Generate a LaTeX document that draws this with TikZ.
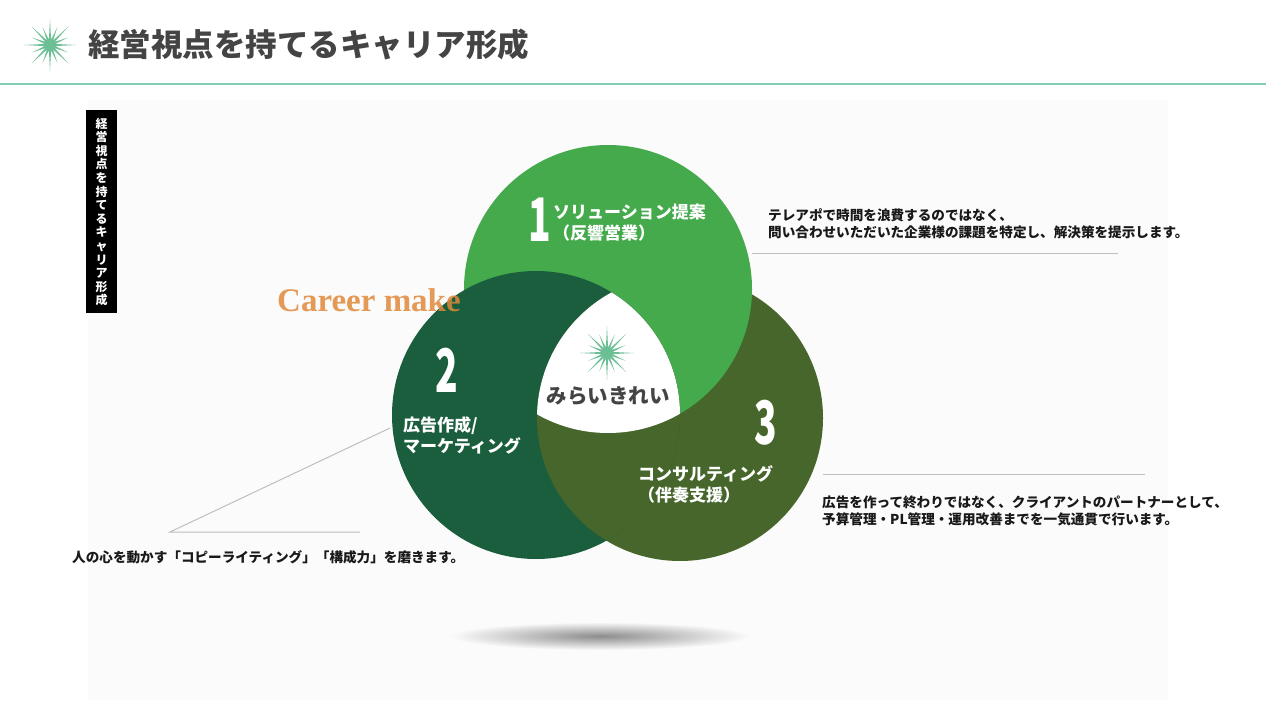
\documentclass[tikz,border=0pt]{standalone}
\usepackage{fontspec}
\setmainfont{Noto Sans CJK JP}
\newfontfamily\serifb{Liberation Serif}
\definecolor{gA}{HTML}{44AA4C}
\definecolor{gB}{HTML}{1B5E3D}
\definecolor{gC}{HTML}{46662B}
\definecolor{starc}{HTML}{6CBF95}
\definecolor{teal}{HTML}{7FD0B0}
\definecolor{tgray}{HTML}{444444}
\definecolor{orng}{HTML}{E0883A}
\tikzset{
  lead/.style={draw=black!25,line width=1pt},
  desc/.style={anchor=west,font=\bfseries\fontsize{13.6}{17}\selectfont,align=left,inner sep=0pt,text=black!90},
  inlab/.style={anchor=west,font=\bfseries\fontsize{17}{21}\selectfont,align=left,inner sep=0pt,text=white},
  bignum/.style={font=\bfseries\fontsize{60}{60}\selectfont,text=white,inner sep=0pt,xscale=0.62}
}
\begin{document}
\begin{tikzpicture}[x=1pt,y=-1pt]
\useasboundingbox (0,0) rectangle (1266,720);
\fill[white] (0,0) rectangle (1266,720);
\fill[black!1.5] (88,100) rectangle (1168,700);
% title star
\fill[starc] plot[samples at={0,...,31},variable=\i]
    ({50+ (mod(\i,2)==0 ? 26*(mod(\i,4)==0?1:0.75) : 5.5)*cos(\i*11.25)},
     {45+ (mod(\i,2)==0 ? 26*(mod(\i,4)==0?1:0.75) : 5.5)*sin(\i*11.25)}) -- cycle;
\node[anchor=west,inner sep=0pt,text=tgray,font=\bfseries\fontsize{31.5}{33}\selectfont] (title) at (88,45) {経営視点を持てるキャリア形成};
\draw[teal,line width=2pt] (0,84) -- (1266,84);
\fill[black] (86,110) rectangle (117,313);
\node[text=white,inner sep=0pt,align=center,font=\bfseries\fontsize{12}{13.6}\selectfont] (vbar) at (101.5,212) {経\\営\\視\\点\\を\\持\\て\\る\\キ\\ャ\\リ\\ア\\形\\成};
% shadow
\shade[inner color=black!45,outer color=black!1.5] (600,636) ellipse (150 and 14);
% circles
\def\CA{(608,289) circle (144)}
\def\CB{(536,415) circle (144)}
\def\CC{(680,418) circle (143)}
\fill[gC] \CC;
\fill[gA] \CA;
\fill[gB] \CB;
\begin{scope}\clip \CB; \fill[gC] \CC; \end{scope}
\begin{scope}\clip \CB; \clip \CC; \fill[white] \CA; \end{scope}
\node[anchor=west,inner sep=0pt,text=orng,opacity=0.85,font=\serifb\bfseries\fontsize{33}{33}\selectfont] (career) at (277,300) {Career make};
\fill[starc] plot[samples at={0,...,31},variable=\i]
    ({607+ (mod(\i,2)==0 ? 27*(mod(\i,4)==0?1:0.75) : 5.5)*cos(\i*11.25)},
     {353+ (mod(\i,2)==0 ? 27*(mod(\i,4)==0?1:0.75) : 5.5)*sin(\i*11.25)}) -- cycle;
\node[text=tgray,font=\bfseries\fontsize{20.5}{22}\selectfont,inner sep=0pt] (center) at (608,396) {みらいきれい};
% labels
\node[bignum] (n1) at (540,220) {1};
\node[inlab] (l1) at (553,223) {ソリューション提案\\（反響営業）};
\node[bignum] (n2) at (447,370) {2};
\node[inlab] (l2) at (403,435) {広告作成/\\マーケティング};
\node[bignum] (n3) at (766,423) {3};
\node[inlab] (l3) at (638,484) {コンサルティング\\（伴奏支援）};
% leaders
\coordinate (a1) at (752,253); \coordinate (a2) at (1118,253);
\coordinate (b1) at (823,474); \coordinate (b2) at (1145,474);
\coordinate (c1) at (390,428); \coordinate (c2) at (170,532); \coordinate (c3) at (360,532);
\draw[lead] (a1) -- (a2);
\draw[lead] (b1) -- (b2);
\draw[lead] (c1) -- (c2) -- (c3);
\node[desc] (d1) at (768,224) {テレアポで時間を浪費するのではなく、\\問い合わせいただいた企業様の課題を特定し、解決策を提示します。};
\node[desc] (d3) at (822,511) {広告を作って終わりではなく、クライアントのパートナーとして、\\予算管理・PL管理・運用改善までを一気通貫で行います。};
\node[desc] (d2) at (72,557) {人の心を動かす「コピーライティング」「構成力」を磨きます。};
\end{tikzpicture}
\end{document}
